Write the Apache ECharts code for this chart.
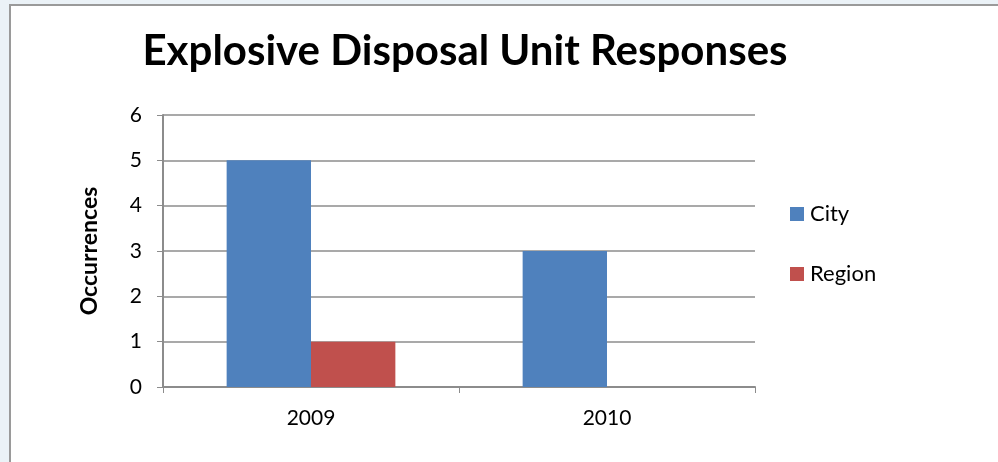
<!DOCTYPE html>
<html>
<head>
<meta charset="utf-8">
<script src="https://cdn.jsdelivr.net/npm/echarts@6/dist/echarts.min.js"></script>
<style>
  html, body { margin: 0; padding: 0; width: 998px; height: 462px; overflow: hidden; background: #ebf2f7; }
  #frame { position: absolute; left: 9px; top: 4px; width: 1000px; height: 470px; background: #fff; border: 2px solid #9a9a9a; box-sizing: border-box; }
  #chart { position: absolute; left: 0; top: 0; width: 998px; height: 462px; }
</style>
</head>
<body>
<div id="frame"></div>
<div id="chart"></div>
<script>
const categories = ['2009', '2010'];
const cityValues = [5, 3];
const regionValues = [1, 0];
const yTicks = [0, 1, 2, 3, 4, 5, 6];

const font = 'Lato, "Open Sans", sans-serif';
const chart = echarts.init(document.getElementById('chart'), null, { renderer: 'canvas' });
chart.setOption({
  backgroundColor: 'transparent',
  animation: false,
  title: {
    text: 'Explosive Disposal Unit Responses',
    left: 465, top: 30, textAlign: 'center', padding: 0,
    textStyle: { fontFamily: font, fontWeight: 'bold', fontSize: 42, color: '#000' }
  },
  legend: {
    orient: 'vertical', left: 790, top: 203, itemWidth: 14, itemHeight: 14, itemGap: 38,
    icon: 'rect', padding: 0,
    textStyle: { fontFamily: font, fontSize: 22, color: '#000', padding: [0, 0, 0, 1] },
    data: ['City', 'Region']
  },
  grid: { left: 163, top: 115, right: 243, bottom: 75, containLabel: false },
  xAxis: {
    type: 'category', data: categories,
    axisLine: { lineStyle: { color: '#8c8c8c', width: 2 } },
    axisTick: { show: true, length: 6, alignWithLabel: false, lineStyle: { color: '#8c8c8c', width: 1 } },
    axisLabel: { fontFamily: font, fontSize: 21, color: '#000', margin: 21 }
  },
  yAxis: {
    type: 'value', min: yTicks[0], max: yTicks[yTicks.length - 1], interval: 1,
    name: 'Occurrences', nameLocation: 'middle', nameGap: 62, nameRotate: 90,
    nameTextStyle: { fontFamily: font, fontWeight: 'bold', fontSize: 23, color: '#000' },
    axisLine: { show: true, lineStyle: { color: '#8c8c8c', width: 2 } },
    axisTick: { show: true, length: 6, lineStyle: { color: '#8c8c8c', width: 1 } },
    axisLabel: { fontFamily: font, fontSize: 21, color: '#000', margin: 21 },
    splitLine: { lineStyle: { color: '#8c8c8c', width: 1.5 } }
  },
  series: [
    { name: 'City', type: 'bar', data: cityValues, barGap: '0%', barCategoryGap: '43%',
      itemStyle: { color: '#4f81bd' } },
    { name: 'Region', type: 'bar', data: regionValues, barGap: '0%', barCategoryGap: '43%',
      itemStyle: { color: '#c0504d' } }
  ]
});
</script>
</body>
</html>
